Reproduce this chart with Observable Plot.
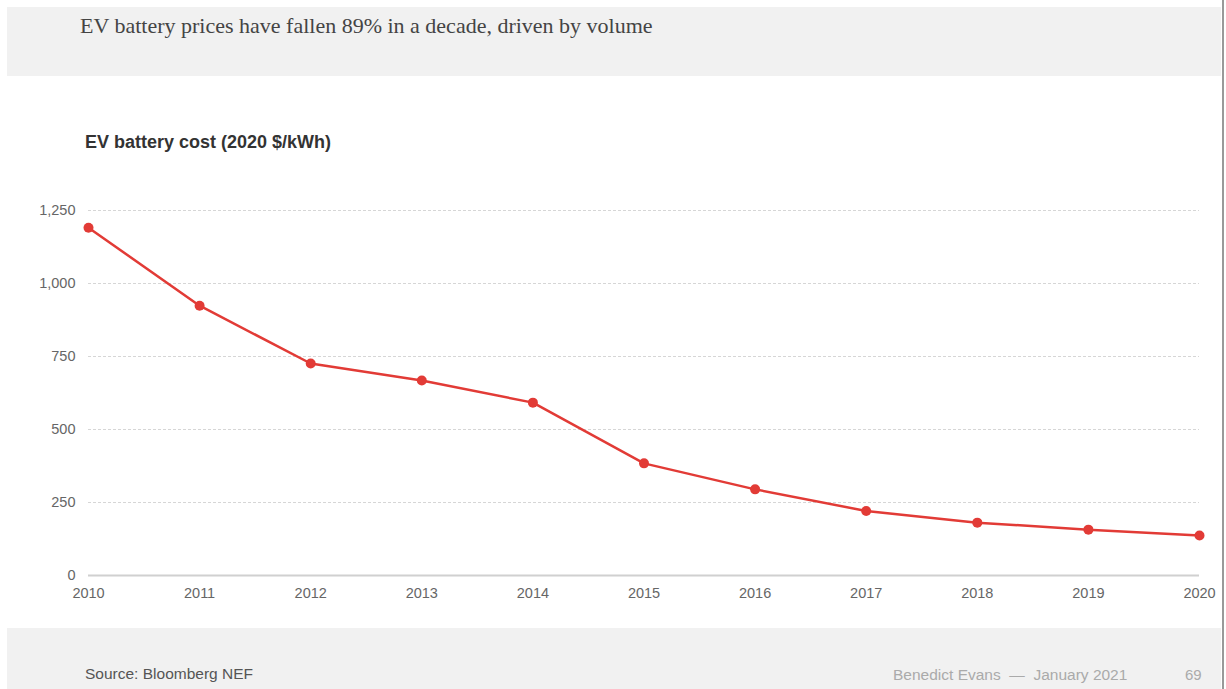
<!DOCTYPE html>
<html>
<head>
<meta charset="utf-8">
<script src="https://cdn.jsdelivr.net/npm/d3@7"></script>
<script src="https://cdn.jsdelivr.net/npm/@observablehq/plot@0.6"></script>
<style>
  html, body { margin: 0; padding: 0; background: #fff; }
  #page { position: relative; width: 1226px; height: 689px; overflow: hidden; background: #fff; font-family: "Liberation Sans", Arial, sans-serif; }
  #topband { position: absolute; left: 7px; top: 7px; width: 1214px; height: 69px; background: #f1f1f1; }
  #title { position: absolute; left: 80px; top: 13px; font-family: "Liberation Serif", "DejaVu Serif", serif; font-size: 22px; color: #444; white-space: nowrap; }
  #subtitle { position: absolute; left: 85px; top: 132px; font-size: 18px; font-weight: bold; color: #333; white-space: nowrap; }
  #chart { position: absolute; left: 0; top: 190px; }
  #botband { position: absolute; left: 7px; top: 628px; width: 1214px; height: 61px; background: #f1f1f1; }
  #source { position: absolute; left: 85px; top: 665px; font-size: 15.5px; color: #555; white-space: nowrap; }
  #credit { position: absolute; left: 893px; top: 666px; font-size: 15.5px; color: #aaa; white-space: nowrap; }
  #pagenum { position: absolute; left: 1185px; top: 666px; font-size: 15px; color: #aaa; }
  #edge { position: absolute; left: 1222px; top: 0; width: 2px; height: 689px; background: #999; }
</style>
</head>
<body>
<div id="page">
  <div id="topband"></div>
  <div id="title">EV battery prices have fallen 89% in a decade, driven by volume</div>
  <div id="subtitle">EV battery cost (2020 $/kWh)</div>
  <div id="chart"></div>
  <div id="botband"></div>
  <div id="source">Source: Bloomberg NEF</div>
  <div id="credit">Benedict Evans &nbsp;— &nbsp;January 2021</div>
  <div id="pagenum">69</div>
  <div id="edge"></div>
</div>
<script>
const years = [2010, 2011, 2012, 2013, 2014, 2015, 2016, 2017, 2018, 2019, 2020];
const costs = [1191, 924, 726, 668, 592, 384, 295, 221, 181, 157, 137];
const yTicks = [0, 250, 500, 750, 1000, 1250];

const data = years.map((y, i) => ({year: y, cost: costs[i]}));
const red = "#e23b36";

const chart = Plot.plot({
  width: 1226,
  height: 430,
  marginTop: 20,
  marginBottom: 45,
  marginLeft: 88,
  marginRight: 27,
  style: { fontFamily: "Liberation Sans, Arial, sans-serif", fontSize: "14.5px", color: "#666", background: "transparent" },
  x: { domain: [2010, 2020], label: null },
  y: { domain: [0, 1250], label: null },
  marks: [
    Plot.gridY(yTicks.filter(d => d > 0), { stroke: "#d6d6d6", strokeOpacity: 1, strokeDasharray: "3,2" }),
    Plot.ruleY([0], { stroke: "#d0d0d0", strokeWidth: 2 }),
    Plot.axisX({ ticks: years, tickFormat: d => String(d), tickSize: 0, tickPadding: 12, label: null }),
    Plot.axisY({ ticks: yTicks, tickFormat: d3.format(","), tickSize: 0, tickPadding: 13, label: null }),
    Plot.line(data, { x: "year", y: "cost", stroke: red, strokeWidth: 2.5 }),
    Plot.dot(data, { x: "year", y: "cost", r: 5, fill: red })
  ]
});
document.getElementById("chart").appendChild(chart);
</script>
</body>
</html>
